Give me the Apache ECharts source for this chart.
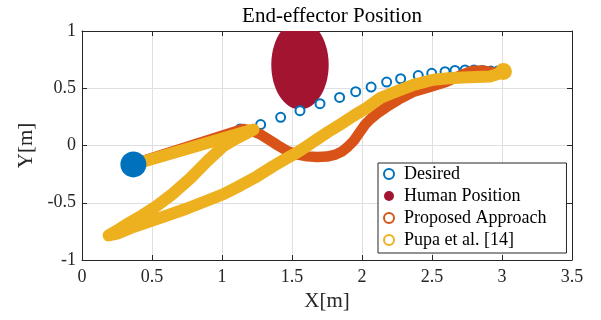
<!DOCTYPE html>
<html>
<head>
<meta charset="utf-8">
<script src="https://cdn.jsdelivr.net/npm/echarts@6/dist/echarts.min.js"></script>
<style>
  html, body { margin: 0; padding: 0; background: #fff; }
  #chart { width: 601px; height: 320px; }
</style>
</head>
<body>
<div id="chart"></div>
<script>
const xTicks = [0, 0.5, 1, 1.5, 2, 2.5, 3, 3.5]
const yTicks = [-1, -0.5, 0, 0.5, 1]

// desired trajectory (open circles)
const desired = [
  [1.13, 0.145], [1.276, 0.183], [1.419, 0.246], [1.557, 0.304], [1.70, 0.365],
  [1.84, 0.42], [1.955, 0.47], [2.065, 0.51], [2.176, 0.554], [2.276, 0.583],
  [2.402, 0.611], [2.498, 0.63], [2.593, 0.645], [2.664, 0.655], [2.736, 0.66],
  [2.80, 0.66], [2.86, 0.655], [2.92, 0.65], [2.97, 0.65], [3.0, 0.65]
]

// human position: centre and half axes (x, y) in metres
const humanCenter = [1.557, 0.705]
const humanRadius = [0.205, 0.39]

// proposed approach path
const proposed = [
  [0.37, -0.16], [1.15, 0.145], [1.21, 0.13], [1.27, 0.10], [1.33, 0.055],
  [1.40, 0.0], [1.47, -0.05], [1.54, -0.08], [1.61, -0.095], [1.68, -0.10],
  [1.75, -0.097], [1.81, -0.08], [1.86, -0.05], [1.90, -0.01], [1.94, 0.04],
  [1.98, 0.11], [2.02, 0.18], [2.06, 0.23], [2.12, 0.29], [2.18, 0.34],
  [2.26, 0.40], [2.37, 0.47], [2.48, 0.51], [2.60, 0.555], [2.70, 0.61],
  [2.78, 0.65], [2.86, 0.655], [2.93, 0.64], [3.0, 0.625]
]

// Pupa et al. [14] path
const pupa = [
  [0.367, -0.165], [1.224, 0.139], [1.10, 0.06], [1.01, -0.006], [0.90, -0.13],
  [0.77, -0.29], [0.65, -0.42], [0.533, -0.528], [0.43, -0.61], [0.343, -0.672],
  [0.26, -0.735], [0.19, -0.785], [0.25, -0.77], [0.35, -0.72], [0.533, -0.643],
  [0.75, -0.55], [1.009, -0.426], [1.13, -0.35], [1.25, -0.27], [1.366, -0.18],
  [1.45, -0.12], [1.533, -0.064], [1.60, -0.01], [1.676, 0.052], [1.76, 0.12],
  [1.843, 0.183], [1.94, 0.26], [2.033, 0.328], [2.13, 0.415], [2.24, 0.47],
  [2.367, 0.53], [2.51, 0.574], [2.62, 0.588], [2.724, 0.594], [2.82, 0.598],
  [2.914, 0.603], [2.97, 0.625], [3.01, 0.646]
]

const startPoint = [pupa[0]]
const pupaEnd = [pupa[pupa.length - 1]]

const font = 'Liberation Serif'
const axisColor = '#262626'
const gridColor = '#dfdfdf'

const chart = echarts.init(document.getElementById('chart'), null, { renderer: 'canvas' })

const xBase = {
  type: 'value', min: xTicks[0], max: xTicks[xTicks.length - 1], interval: 0.5,
  axisLine: { show: true, onZero: false, lineStyle: { color: axisColor, width: 1 } },
  axisTick: { show: true, inside: true, length: 5, lineStyle: { color: axisColor } }
}
const yBase = {
  type: 'value', min: yTicks[0], max: yTicks[yTicks.length - 1], interval: 0.5,
  axisLine: { show: true, onZero: false, lineStyle: { color: axisColor, width: 1 } },
  axisTick: { show: true, inside: true, length: 5, lineStyle: { color: axisColor } }
}

const option = {
  animation: false,
  backgroundColor: '#fff',
  title: {
    text: 'End-effector Position',
    left: 327, top: 1, textAlign: 'center',
    textStyle: { fontFamily: font, fontSize: 21, fontWeight: 'normal', color: '#000' }
  },
  grid: { left: 82, right: 29, top: 31, bottom: 60 },
  legend: {
    orient: 'vertical',
    left: 378, top: 163,
    padding: [2, 20, 4, 5],
    itemGap: 4,
    itemWidth: 20, itemHeight: 10,
    backgroundColor: '#fff',
    borderColor: axisColor, borderWidth: 1,
    textStyle: { fontFamily: font, fontSize: 18, color: '#000', lineHeight: 18 },
    data: [
      { name: 'Desired', icon: 'emptyCircle' },
      { name: 'Human Position', icon: 'circle' },
      { name: 'Proposed Approach', icon: 'emptyCircle' },
      { name: 'Pupa et al. [14]', icon: 'emptyCircle' }
    ]
  },
  xAxis: [
    Object.assign({}, xBase, {
      position: 'bottom',
      name: 'X[m]', nameLocation: 'middle', nameGap: 31,
      nameTextStyle: { fontFamily: font, fontSize: 21, color: axisColor },
      axisLabel: { margin: 8, fontFamily: font, fontSize: 18, color: axisColor },
      splitLine: { show: true, lineStyle: { color: gridColor, width: 1 } }
    }),
    Object.assign({}, xBase, {
      position: 'top',
      axisLabel: { show: false },
      splitLine: { show: false }
    })
  ],
  yAxis: [
    Object.assign({}, yBase, {
      position: 'left',
      name: 'Y[m]', nameLocation: 'middle', nameGap: 42,
      nameTextStyle: { fontFamily: font, fontSize: 21, color: axisColor },
      axisLabel: { margin: 6, fontFamily: font, fontSize: 18, color: axisColor },
      splitLine: { show: true, lineStyle: { color: gridColor, width: 1 } }
    }),
    Object.assign({}, yBase, {
      position: 'right',
      axisLabel: { show: false },
      splitLine: { show: false }
    })
  ],
  series: [
    {
      name: 'Human Position',
      type: 'custom',
      clip: true,
      z: 1,
      itemStyle: { color: '#A2142F' },
      data: [[humanCenter[0], humanCenter[1], humanRadius[0], humanRadius[1]]],
      renderItem: function (params, api) {
        const c = api.coord([api.value(0), api.value(1)])
        const s = api.size([api.value(2), api.value(3)])
        return {
          type: 'ellipse',
          shape: { cx: c[0], cy: c[1], rx: s[0], ry: s[1] },
          style: { fill: '#A2142F' }
        }
      }
    },
    {
      name: 'Desired',
      type: 'scatter',
      z: 2,
      symbol: 'emptyCircle',
      symbolSize: 9,
      itemStyle: { color: '#0072BD', borderColor: '#0072BD', borderWidth: 1.6, opacity: 1 },
      data: desired
    },
    {
      name: 'Proposed Approach',
      type: 'line',
      z: 3,
      color: '#D95319',
      showSymbol: false,
      lineStyle: { color: '#D95319', width: 10.5, cap: 'round', join: 'round' },
      data: proposed
    },
    {
      name: 'Pupa et al. [14]',
      type: 'line',
      z: 4,
      color: '#EDB120',
      showSymbol: false,
      lineStyle: { color: '#EDB120', width: 12, cap: 'round', join: 'round' },
      data: pupa
    },
    {
      name: 'end',
      type: 'scatter',
      z: 5,
      symbol: 'circle',
      symbolSize: 17,
      itemStyle: { color: '#EDB120', opacity: 1 },
      data: pupaEnd
    },
    {
      name: 'start',
      type: 'scatter',
      z: 6,
      symbol: 'circle',
      symbolSize: 26,
      itemStyle: { color: '#0072BD', opacity: 1 },
      data: startPoint
    }
  ]
}

chart.setOption(option)
</script>
</body>
</html>
